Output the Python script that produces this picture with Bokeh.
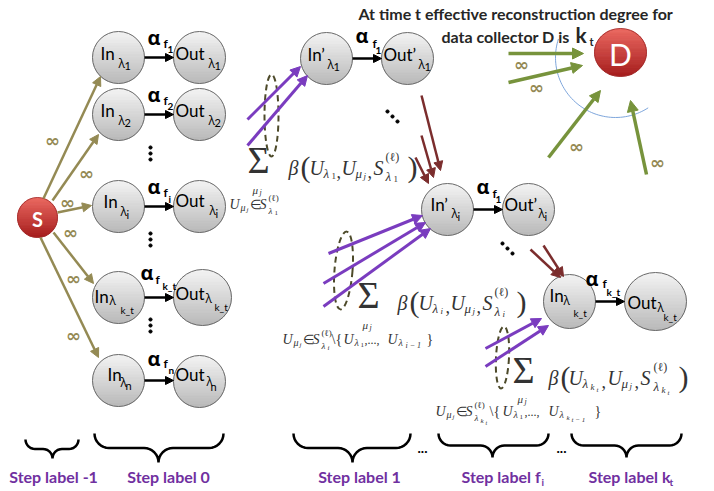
import math
from bokeh.plotting import figure
from bokeh.models import Range1d, ColumnDataSource, Arrow, NormalHead
from bokeh.embed import file_html
from bokeh.resources import INLINE

# ---------------- data ----------------
title_line1 = "At time t effective reconstruction degree for"
title_line2 = "data collector D is"

node_base  = ["In", "In", "In", "In", "In", "Out", "Out", "Out", "Out", "Out",
              "In’", "Out’", "In’", "Out’", "In", "Out"]
node_index = ["1", "2", "i", "k_t", "n", "1", "2", "i", "k_t", "n",
              "1", "1", "i", "i", "k_t", "k_t"]
node_x = [118, 118, 118, 118, 118, 199, 199, 199, 202, 199, 326, 407, 447, 528, 569, 655]
node_y = [57, 114, 206, 297, 380, 57, 114, 206, 297, 381, 58, 58, 209, 209, 301, 301]
node_w = [52, 52, 52, 52, 52, 52, 52, 52, 58, 52, 52, 52, 52, 52, 52, 62]
node_h = [52, 52, 52, 52, 52, 52, 52, 52, 56, 52, 52, 52, 52, 52, 54, 58]
lab_bx = [-18, -18, -15, -24, -11, -24, -24, -24, -27, -24, -19, -24, -17, -24, -20, -28]
lab_by = [-4, -4, -5, -1, -6, -4, -4, -6, -4, -7, -4, -4, -5, -5, -6, 1]
lab_lx = [0, 0, 2, -9, 2, 9, 9, 10, 3, 7, 1, 11, 4, 10, -6, 2]
lab_ly = [6, 6, 5, 3, 2, 6, 6, 4, 1, 0, 6, 6, 4, 4, -1, 6]
lab_ix = [6, 6, 8, 2, 7, 15, 15, 16, 12, 11, 7, 17, 10, 16, 4, 8]
lab_iy = [8, 8, 8, 12, 5, 8, 8, 7, 9, 5, 8, 8, 7, 7, 11, 15]

link_from = [0, 1, 2, 3, 4, 10, 12, 14]
link_to   = [5, 6, 7, 8, 9, 11, 13, 15]

alpha_index = ["1", "2", "i", "k_t", "n", "1", "1", "k_t"]
alpha_x = [147, 147, 147, 140, 147, 355, 476, 585]
alpha_y = [37, 94, 186, 272, 358, 35, 186, 278]
alpha_fx = [16, 16, 16, 15, 16, 17, 16, 17]
alpha_fy = [6, 6, 6, 7, 5, 8, 7, 5]
alpha_ix = [20, 20, 21, 22, 21, 20, 19, 21]
alpha_iy = [12, 12, 12, 13, 11, 15, 13, 13]

red_labels = ["S", "D"]
red_x = [37, 620]
red_y = [217, 52]
red_w = [40, 52]
red_h = [40, 48]
red_size = [20, 30]

src_x0 = [43, 52, 57, 53, 40]
src_y0 = [198, 200, 212, 232, 237]
src_x1 = [100, 98, 91, 93, 98]
src_y1 = [76, 134, 205, 283, 357]

pur_x0 = [247, 247, 328, 323, 323, 485, 485]
pur_y0 = [119, 145, 253, 283, 306, 348, 366]
pur_x1 = [300, 307, 422, 425, 430, 541, 548]
pur_y1 = [66, 75, 215, 222, 228, 318, 325]

red_arrow_x0 = [421, 421, 415, 530, 543]
red_arrow_y0 = [95, 135, 157, 249, 245]
red_arrow_x1 = [440, 433, 428, 560, 563]
red_arrow_y1 = [170, 177, 183, 277, 276]

grn_x0 = [508, 508, 548, 646]
grn_y0 = [53, 82, 157, 174]
grn_x1 = [583, 582, 600, 630]
grn_y1 = [53, 65, 90, 100]

inf_x = [52, 86, 67, 70, 73, 73, 521, 536, 576, 657]
inf_y = [140, 173, 202, 232, 278, 335, 64, 87, 146, 162]

dash_x = [271, 343, 502]
dash_y = [115, 270, 357]
dash_w = [14, 18, 13]
dash_h = [82, 78, 62]
dash_a = [0.0, -0.08, -0.05]

vdots_x = [150, 150, 150]
vdots_y = [153, 239, 325]
ddots_x = [392, 507]
ddots_y = [116, 248]

brace_x0 = [25, 94, 293, 438, 571]
brace_x1 = [78, 223, 410, 548, 681]
brace_tip = [52, 158, 352, 492, 626]
brace_top = [439, 433, 433, 433, 433]
brace_bot = [458, 462, 462, 457, 457]

step_text = ["Step label  -1", "Step label  0", "Step label 1", "Step label f", "Step label k"]
step_sub = ["", "", "", "i", "t"]
step_x = [55, 170, 359, 461, 588]
step_align = ["center", "center", "center", "left", "left"]
step_subx = [0, 0, 0, 541, 669]

bottom_dots_x = [422, 561]

arc_cx, arc_cy, arc_r = 615, 57, 60
arc_a0, arc_a1 = 57, 198

# ---------------- styles ----------------
SANS = "Lato"
GREEK = "Open Sans"
SERIF = "Liberation Serif"
OLIVE = "#948A54"
PURPLE = "#7A3CBF"
DRED = "#7B2D2D"
GREEN = "#77933C"
DASHC = "#4D4A2A"
BLUE = "#7EA6DC"
STEPC = "#7030A0"
MATH = "#333333"

W, H = 700, 488
p = figure(width=W, height=H, x_range=Range1d(0, W), y_range=Range1d(H, 0),
           output_backend="svg", toolbar_location=None, min_border=0)
p.axis.visible = False
p.grid.visible = False
p.outline_line_color = None
p.background_fill_color = "white"


def hex2rgb(h):
    h = h.lstrip("#")
    return tuple(int(h[i:i + 2], 16) for i in (0, 2, 4))


def mix(c1, c2, t):
    a, b = hex2rgb(c1), hex2rgb(c2)
    return "#%02x%02x%02x" % tuple(int(round(a[i] + (b[i] - a[i]) * t)) for i in range(3))


# gradient-filled ellipses as horizontal strips
gx, gy, gc = [], [], []


def grad(cx, cy, w, h, ctop, cbot, n=18):
    for k in range(n):
        y1 = cy - h / 2 + h * k / n
        y2 = min(cy + h / 2, y1 + h / n + 0.7)
        ys = [y1 + (y2 - y1) * j / 4 for j in range(5)]
        half = [(w / 2) * math.sqrt(max(0.0, 1 - ((yy - cy) / (h / 2)) ** 2)) for yy in ys]
        px = [cx - hw for hw in half] + [cx + hw for hw in reversed(half)]
        py = ys + list(reversed(ys))
        gx.append(px)
        gy.append(py)
        gc.append(mix(ctop, cbot, (k + 0.5) / n))


for i in range(len(node_x)):
    grad(node_x[i], node_y[i], node_w[i], node_h[i], "#F4F4F4", "#B9B9B9")
for i in range(len(red_x)):
    grad(red_x[i], red_y[i], red_w[i], red_h[i], "#EC6A62", "#A51D1D")

p.patches(xs="xs", ys="ys", fill_color="c", line_color="c", line_width=0.6,
          source=ColumnDataSource(dict(xs=gx, ys=gy, c=gc)))
p.ellipse(x=node_x, y=node_y, width=node_w, height=node_h, fill_alpha=0,
          line_color="#6A6A6A", line_width=1)
p.ellipse(x=red_x, y=red_y, width=red_w, height=red_h, fill_alpha=0,
          line_color="#9E2A2A", line_width=0.8)

# dashed ellipses
p.ellipse(x=dash_x, y=dash_y, width=dash_w, height=dash_h, angle=dash_a, fill_alpha=0,
          line_color=DASHC, line_width=2, line_dash="6 4")

# blue arc
ang = [math.radians(arc_a0 + (arc_a1 - arc_a0) * k / 60) for k in range(61)]
p.line([arc_cx + arc_r * math.cos(a) for a in ang], [arc_cy + arc_r * math.sin(a) for a in ang],
       line_color=BLUE, line_width=1)

# braces
bxs, bys = [], []
for i in range(len(brace_x0)):
    x0, x1, tp, top, bot = brace_x0[i], brace_x1[i], brace_tip[i], brace_top[i], brace_bot[i]
    mid = (top + bot) / 2
    r1 = mid - top
    r2 = bot - mid
    pts = []
    for k in range(9):
        t = math.pi - (math.pi / 2) * k / 8
        pts.append((x0 + r1 + r1 * math.cos(t), top + r1 * math.sin(t)))
    for k in range(9):
        t = -math.pi / 2 + (math.pi / 2) * k / 8
        pts.append((tp - r2 + r2 * math.cos(t), bot + r2 * math.sin(t)))
    for k in range(9):
        t = math.pi + (math.pi / 2) * k / 8
        pts.append((tp + r2 + r2 * math.cos(t), bot + r2 * math.sin(t)))
    for k in range(9):
        t = math.pi / 2 - (math.pi / 2) * k / 8
        pts.append((x1 - r1 + r1 * math.cos(t), top + r1 * math.sin(t)))
    bxs.append([q[0] for q in pts])
    bys.append([q[1] for q in pts])
p.multi_line(xs=bxs, ys=bys, line_color="black", line_width=2.5)

# dots
vx, vy = [], []
for i in range(len(vdots_x)):
    for d in (-6, 0, 6):
        vx.append(vdots_x[i])
        vy.append(vdots_y[i] + d)
for i in range(len(ddots_x)):
    for d in (-5, 0, 5):
        vx.append(ddots_x[i] + d)
        vy.append(ddots_y[i] + d)
p.scatter(vx, vy, size=3.2, color="black")


# arrows
def arrows(x0, y0, x1, y1, color, lw, hs):
    src = ColumnDataSource(dict(x0=x0, y0=y0, x1=x1, y1=y1))
    p.add_layout(Arrow(end=NormalHead(size=hs, fill_color=color, line_color=color, line_width=1),
                       x_start="x0", y_start="y0", x_end="x1", y_end="y1",
                       line_color=color, line_width=lw, source=src))


arrows(src_x0, src_y0, src_x1, src_y1, OLIVE, 2.5, 9)
arrows(pur_x0, pur_y0, pur_x1, pur_y1, PURPLE, 3, 10)
arrows(red_arrow_x0, red_arrow_y0, red_arrow_x1, red_arrow_y1, DRED, 2.5, 9)
arrows(grn_x0, grn_y0, grn_x1, grn_y1, GREEN, 3.5, 11)
lx0 = [node_x[a] + node_w[a] / 2 for a in link_from]
lx1 = [node_x[b] - node_w[b] / 2 for b in link_to]
ly = [node_y[a] for a in link_from]
arrows(lx0, ly, lx1, ly, "black", 2.5, 8)

# texts
T = dict(x=[], y=[], text=[], size=[], font=[], style=[], color=[], align=[])


def put(x, y, s, size, font=SANS, style="normal", color="black", align="left"):
    T["x"].append(x)
    T["y"].append(y)
    T["text"].append(s)
    T["size"].append("%gpx" % size)
    T["font"].append(font)
    T["style"].append(style)
    T["color"].append(color)
    T["align"].append(align)


def M(x, y, s, size, style="italic", align="left"):
    put(x, y, s, size, SERIF, style, MATH, align)


# title
put(358, 13, title_line1, 16, SANS, "bold", "#262626")
put(441, 36, title_line2, 16, SANS, "bold", "#262626")
put(575, 34, "k", 21, SANS, "bold", "#262626")
put(589, 41, "t", 11, SANS, "bold", "#262626")

# node labels
for i in range(len(node_x)):
    cx, cy = node_x[i], node_y[i]
    put(cx + lab_bx[i], cy + lab_by[i], node_base[i], 17)
    put(cx + lab_lx[i], cy + lab_ly[i], "λ", 12, GREEK)
    put(cx + lab_ix[i], cy + lab_iy[i], node_index[i], 10 if node_index[i] == "k_t" else 11)

# red node letters
for i in range(len(red_x)):
    put(red_x[i], red_y[i] + 1, red_labels[i], red_size[i], SANS,
        "bold" if red_labels[i] == "S" else "normal", "white", "center")

# alpha labels
for i in range(len(alpha_x)):
    put(alpha_x[i], alpha_y[i], "α", 20, GREEK, "bold")
    put(alpha_x[i] + alpha_fx[i], alpha_y[i] + alpha_fy[i], "f", 12, SANS, "bold")
    put(alpha_x[i] + alpha_ix[i], alpha_y[i] + alpha_iy[i], alpha_index[i], 10, SANS, "bold")

# infinity labels
for i in range(len(inf_x)):
    put(inf_x[i], inf_y[i], "∞", 18, "DejaVu Sans", "bold", OLIVE, "center")

# step labels
for i in range(len(step_text)):
    put(step_x[i], 476, step_text[i], 16, SANS, "bold", STEPC, step_align[i])
    if step_sub[i]:
        put(step_subx[i], 481, step_sub[i], 10, SANS, "bold", STEPC)
for bx in bottom_dots_x:
    put(bx, 447, "...", 14, SANS, "bold", "black", "center")

# formula 1
M(258, 159, "Σ", 38, "normal", "center")
M(252, 189, "μ", 11); M(259, 192, "j", 8)
M(229, 204, "U", 14); M(240, 207, "μ", 10); M(246, 209, "j", 7); M(249, 204, "∈", 13, "normal")
M(259, 204, "S", 14); M(268, 197, "(ℓ)", 9, "normal"); M(268, 210, "λ", 9); M(274, 212, "1", 7, "normal")
M(288, 167, "β", 20); M(300, 166, "(", 30, "normal"); M(309, 167, "U", 20)
M(323, 173, "λ", 13); M(331, 175, "1", 9, "normal"); M(336, 171, ",", 18, "normal")
M(341, 167, "U", 20); M(355, 173, "μ", 13); M(363, 175, "j", 9); M(367, 171, ",", 18, "normal")
M(373, 167, "S", 20); M(385, 156, "(ℓ)", 12, "normal"); M(385, 176, "λ", 13); M(393, 178, "1", 9, "normal")
M(407, 166, ")", 30, "normal")

# formula 2
M(368, 294, "Σ", 38, "normal", "center")
M(362, 324, "μ", 11); M(369, 327, "j", 8)
M(282, 339, "U", 14); M(293, 342, "μ", 10); M(299, 344, "j", 7); M(302, 339, "∈", 13, "normal")
M(312, 339, "S", 14); M(321, 332, "(ℓ)", 9, "normal"); M(321, 345, "λ", 9); M(327, 347, "i", 7)
M(331, 339, "\\{", 14, "normal"); M(343, 339, "U", 14); M(354, 342, "λ", 10); M(360, 344, "1", 7, "normal")
M(364, 339, ",...,", 12, "normal"); M(387, 339, "U", 14); M(398, 342, "λ", 10); M(405, 345, "i − 1", 8)
M(426, 339, "}", 14, "normal")
M(397, 302, "β", 20); M(409, 301, "(", 30, "normal"); M(418, 302, "U", 20)
M(432, 308, "λ", 13); M(440, 310, "i", 9); M(445, 306, ",", 18, "normal")
M(450, 302, "U", 20); M(464, 308, "μ", 13); M(472, 310, "j", 9); M(476, 306, ",", 18, "normal")
M(482, 302, "S", 20); M(494, 291, "(ℓ)", 12, "normal"); M(494, 311, "λ", 13); M(502, 313, "i", 9)
M(516, 301, ")", 30, "normal")

# formula 3
M(523, 369, "Σ", 38, "normal", "center")
M(517, 398, "μ", 11); M(524, 401, "j", 8)
M(435, 411, "U", 14); M(446, 414, "μ", 10); M(452, 416, "j", 7); M(455, 411, "∈", 13, "normal")
M(465, 411, "S", 14); M(474, 404, "(ℓ)", 9, "normal"); M(474, 417, "λ", 9); M(480, 420, "k", 7); M(485, 422, "t", 6)
M(489, 411, "\\{", 14, "normal"); M(502, 411, "U", 14); M(513, 414, "λ", 10); M(519, 416, "1", 7, "normal")
M(524, 411, ",...,", 12, "normal"); M(548, 411, "U", 14); M(559, 414, "λ", 10); M(566, 417, "k", 7)
M(571, 419, "t − 1", 7); M(594, 411, "}", 14, "normal")
M(548, 377, "β", 20); M(560, 376, "(", 30, "normal"); M(568, 377, "U", 20)
M(582, 383, "λ", 13); M(590, 386, "k", 9); M(596, 389, "t", 7); M(601, 381, ",", 18, "normal")
M(607, 377, "U", 20); M(621, 383, "μ", 13); M(629, 385, "j", 9); M(634, 381, ",", 18, "normal")
M(640, 377, "S", 20); M(653, 366, "(ℓ)", 12, "normal"); M(653, 386, "λ", 13); M(661, 389, "k", 9); M(667, 392, "t", 7)
M(678, 376, ")", 30, "normal")

p.text(x="x", y="y", text="text", text_font="font", text_font_size="size",
       text_font_style="style", text_color="color", text_align="align",
       text_baseline="middle", source=ColumnDataSource(T))

open("out.html", "w").write(file_html(p, INLINE))
